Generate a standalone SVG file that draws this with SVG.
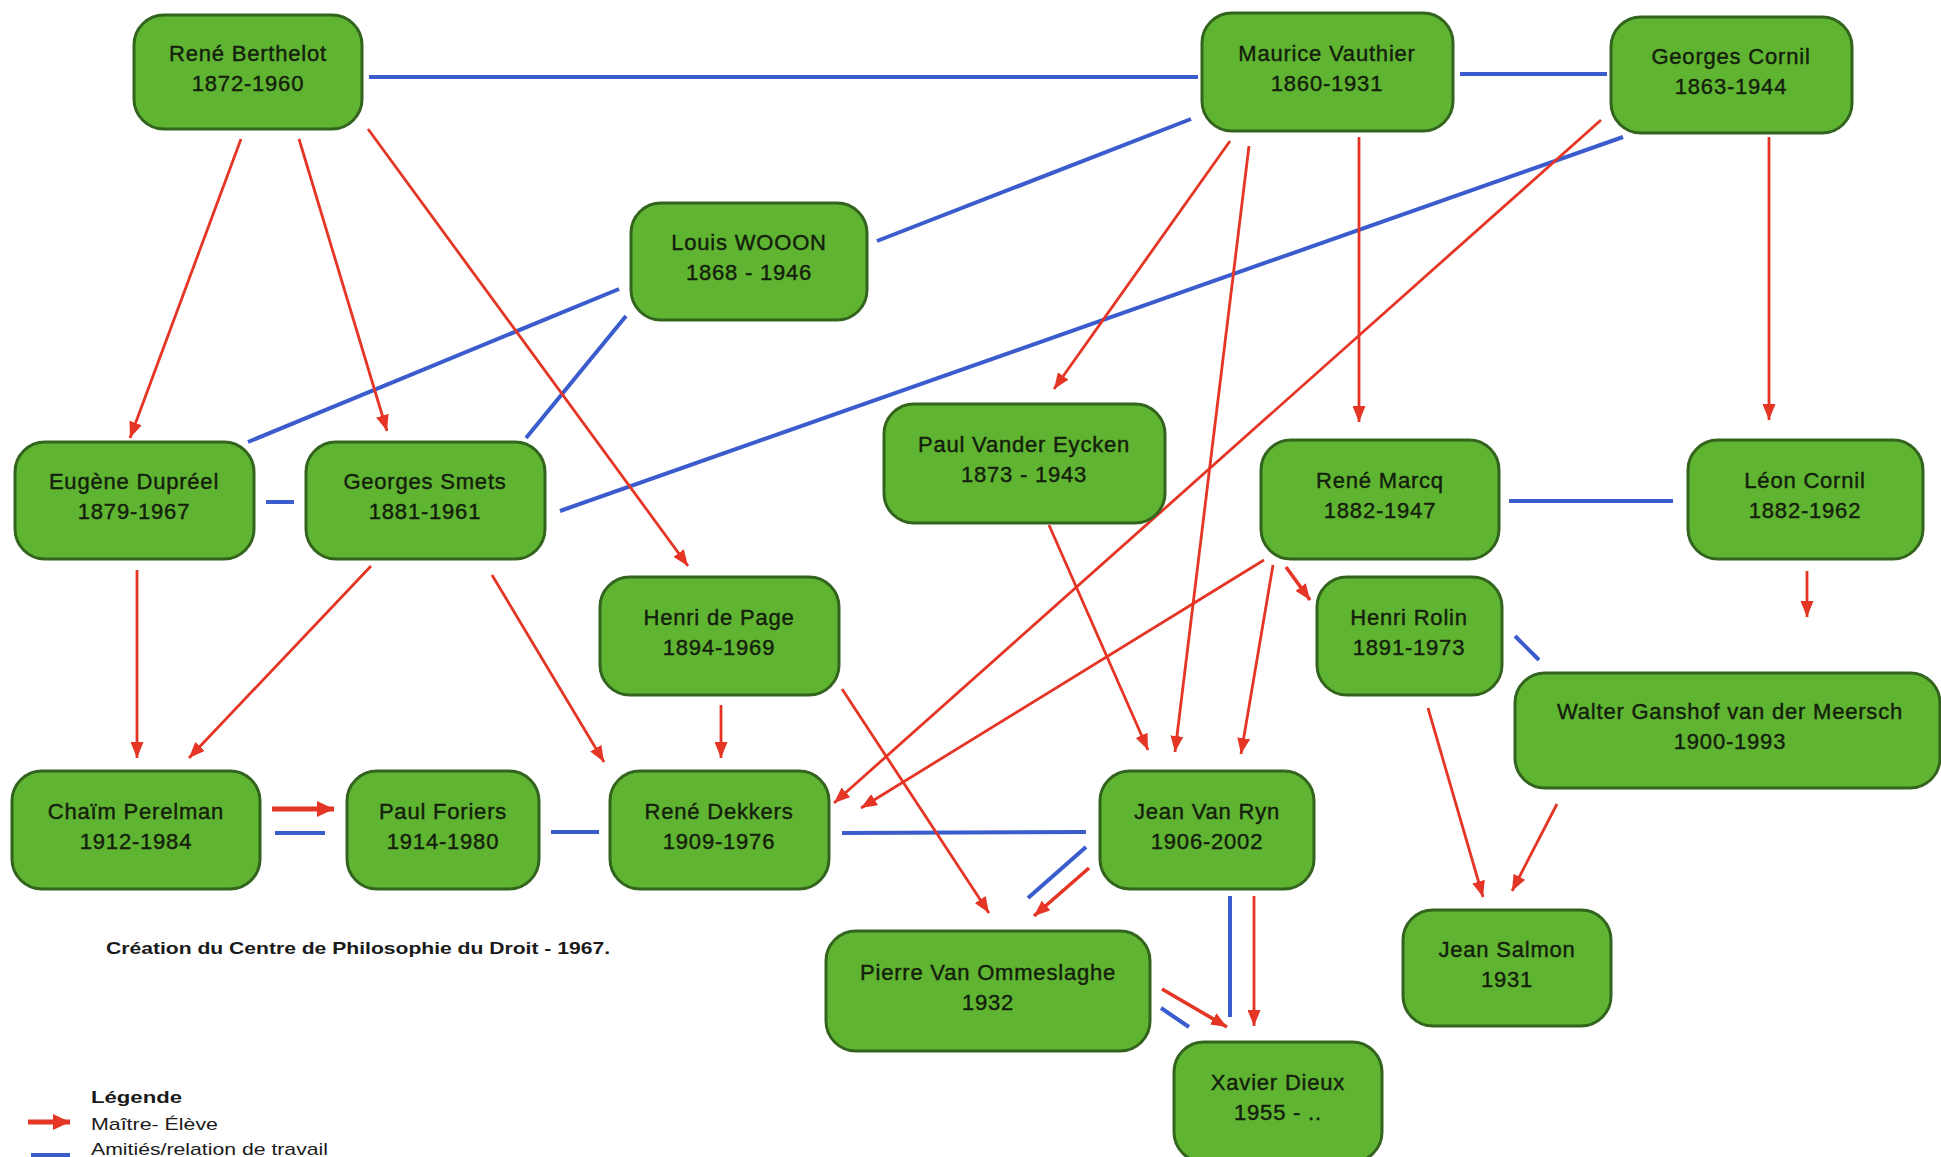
<svg xmlns="http://www.w3.org/2000/svg" width="1941" height="1157" viewBox="0 0 1941 1157">
<style>
.node rect{fill:#5fb432;stroke:#33641e;stroke-width:3}
.node text{font-family:"Liberation Sans",Arial,sans-serif;font-size:22px;letter-spacing:0.8px;fill:#14200c;stroke:#14200c;stroke-width:0.4;text-anchor:middle}
.red{stroke:#e43525;stroke-width:2.8;fill:none;marker-end:url(#ah)}
.redb{stroke:#e43525;stroke-width:3.6;fill:none;marker-end:url(#ah)}
.blue{stroke:#3a5ccc;stroke-width:4;fill:none}
.lbl{font-family:"Liberation Sans",Arial,sans-serif;fill:#1a1a1a}
</style>
<defs>
<marker id="ah" markerUnits="userSpaceOnUse" markerWidth="17" markerHeight="13" refX="16" refY="6.5" orient="auto">
<path d="M0,0 L16,6.5 L0,13 z" fill="#e43525"/>
</marker>
<marker id="ahb" markerUnits="userSpaceOnUse" markerWidth="18" markerHeight="16" refX="17" refY="8" orient="auto">
<path d="M0,0 L17,8 L0,16 z" fill="#e43525"/>
</marker>
</defs>
<rect width="1941" height="1157" fill="#ffffff"/>

<g id="connectors">
<!-- blue: friendship / work relation -->
<line class="blue" x1="369" y1="77" x2="1198" y2="77"/>
<line class="blue" x1="1460" y1="74" x2="1607" y2="74"/>
<line class="blue" x1="1191" y1="119" x2="877" y2="241"/>
<line class="blue" x1="619" y1="289" x2="248" y2="442"/>
<line class="blue" x1="626" y1="316" x2="526" y2="438"/>
<line class="blue" x1="1623" y1="137" x2="560" y2="511"/>
<line class="blue" x1="266" y1="502" x2="294" y2="502"/>
<line class="blue" x1="1509" y1="501" x2="1673" y2="501"/>
<line class="blue" x1="1515" y1="636" x2="1539" y2="660"/>
<line class="blue" x1="275" y1="833" x2="325" y2="833"/>
<line class="blue" x1="551" y1="832" x2="599" y2="832"/>
<line class="blue" x1="842" y1="833" x2="1086" y2="832"/>
<line class="blue" x1="1086" y1="847" x2="1028" y2="898"/>
<line class="blue" x1="1230" y1="896" x2="1230" y2="1017"/>
<line class="blue" x1="1161" y1="1008" x2="1189" y2="1027"/>
<!-- red: master - student -->
<line class="red" x1="241" y1="139" x2="130" y2="438"/>
<line class="red" x1="299" y1="139" x2="387" y2="431"/>
<line class="red" x1="368" y1="129" x2="688" y2="566"/>
<line class="red" x1="137" y1="570" x2="137" y2="758"/>
<line class="red" x1="371" y1="566" x2="189" y2="758"/>
<line class="red" x1="492" y1="575" x2="604" y2="762"/>
<line class="red" x1="721" y1="705" x2="721" y2="758"/>
<line class="redb" x1="272" y1="809" x2="334" y2="809" style="stroke-width:5;marker-end:url(#ahb)"/>
<line class="red" x1="842" y1="689" x2="989" y2="913"/>
<line class="red" x1="1601" y1="120" x2="834" y2="803"/>
<line class="red" x1="1264" y1="560" x2="861" y2="808"/>
<line class="red" x1="1273" y1="565" x2="1241" y2="754"/>
<line class="red" x1="1249" y1="146" x2="1175" y2="752"/>
<line class="red" x1="1049" y1="525" x2="1148" y2="750"/>
<line class="red" x1="1230" y1="141" x2="1054" y2="389"/>
<line class="red" x1="1359" y1="137" x2="1359" y2="422"/>
<line class="red" x1="1769" y1="137" x2="1769" y2="420"/>
<line class="redb" x1="1286" y1="567" x2="1310" y2="600"/>
<line class="red" x1="1807" y1="571" x2="1807" y2="617"/>
<line class="red" x1="1428" y1="708" x2="1483" y2="897"/>
<line class="red" x1="1557" y1="804" x2="1512" y2="891"/>
<line class="redb" x1="1089" y1="868" x2="1034" y2="916"/>
<line class="red" x1="1254" y1="896" x2="1254" y2="1026"/>
<line class="redb" x1="1162" y1="989" x2="1227" y2="1027"/>
</g>

<g id="berthelot" class="node"><rect x="134" y="15" width="228" height="114" rx="30"/><text x="248" y="61">René Berthelot</text><text x="248" y="91">1872-1960</text></g>
<g id="vauthier" class="node"><rect x="1202" y="13" width="251" height="118" rx="30"/><text x="1327" y="61">Maurice Vauthier</text><text x="1327" y="91">1860-1931</text></g>
<g id="gcornil" class="node"><rect x="1611" y="17" width="241" height="116" rx="30"/><text x="1731" y="64">Georges Cornil</text><text x="1731" y="94">1863-1944</text></g>
<g id="wooon" class="node"><rect x="631" y="203" width="236" height="117" rx="30"/><text x="749" y="250">Louis WOOON</text><text x="749" y="280">1868 - 1946</text></g>
<g id="dupreel" class="node"><rect x="15" y="442" width="239" height="117" rx="30"/><text x="134" y="489">Eugène Dupréel</text><text x="134" y="519">1879-1967</text></g>
<g id="smets" class="node"><rect x="306" y="442" width="239" height="117" rx="30"/><text x="425" y="489">Georges Smets</text><text x="425" y="519">1881-1961</text></g>
<g id="eycken" class="node"><rect x="884" y="404" width="281" height="119" rx="30"/><text x="1024" y="452">Paul Vander Eycken</text><text x="1024" y="482">1873 - 1943</text></g>
<g id="marcq" class="node"><rect x="1261" y="440" width="238" height="119" rx="30"/><text x="1380" y="488">René Marcq</text><text x="1380" y="518">1882-1947</text></g>
<g id="lcornil" class="node"><rect x="1688" y="440" width="235" height="119" rx="30"/><text x="1805" y="488">Léon Cornil</text><text x="1805" y="518">1882-1962</text></g>
<g id="depage" class="node"><rect x="600" y="577" width="239" height="118" rx="30"/><text x="719" y="625">Henri de Page</text><text x="719" y="655">1894-1969</text></g>
<g id="rolin" class="node"><rect x="1317" y="577" width="185" height="118" rx="30"/><text x="1409" y="625">Henri Rolin</text><text x="1409" y="655">1891-1973</text></g>
<g id="ganshof" class="node"><rect x="1515" y="673" width="425" height="115" rx="30"/><text x="1730" y="719">Walter Ganshof van der Meersch</text><text x="1730" y="749">1900-1993</text></g>
<g id="perelman" class="node"><rect x="12" y="771" width="248" height="118" rx="30"/><text x="136" y="819">Chaïm Perelman</text><text x="136" y="849">1912-1984</text></g>
<g id="foriers" class="node"><rect x="347" y="771" width="192" height="118" rx="30"/><text x="443" y="819">Paul Foriers</text><text x="443" y="849">1914-1980</text></g>
<g id="dekkers" class="node"><rect x="610" y="771" width="219" height="118" rx="30"/><text x="719" y="819">René Dekkers</text><text x="719" y="849">1909-1976</text></g>
<g id="vanryn" class="node"><rect x="1100" y="771" width="214" height="118" rx="30"/><text x="1207" y="819">Jean Van Ryn</text><text x="1207" y="849">1906-2002</text></g>
<g id="ommeslaghe" class="node"><rect x="826" y="931" width="324" height="120" rx="30"/><text x="988" y="980">Pierre Van Ommeslaghe</text><text x="988" y="1010">1932</text></g>
<g id="salmon" class="node"><rect x="1403" y="910" width="208" height="116" rx="30"/><text x="1507" y="957">Jean Salmon</text><text x="1507" y="987">1931</text></g>
<g id="dieux" class="node"><rect x="1174" y="1042" width="208" height="120" rx="30"/><text x="1278" y="1090">Xavier Dieux</text><text x="1278" y="1120">1955 - ..</text></g>

<text class="lbl" x="106" y="954" font-size="17" font-weight="bold" textLength="504" lengthAdjust="spacingAndGlyphs">Création du Centre de Philosophie du Droit - 1967.</text>

<g id="legend">
<text class="lbl" x="91" y="1103" font-size="17" font-weight="bold" textLength="91" lengthAdjust="spacingAndGlyphs">Légende</text>
<line x1="28" y1="1122" x2="70" y2="1122" stroke="#e43525" stroke-width="5" marker-end="url(#ahb)"/>
<text class="lbl" x="91" y="1130" font-size="17" textLength="127" lengthAdjust="spacingAndGlyphs">Maître- Élève</text>
<line x1="31" y1="1156" x2="70" y2="1156" stroke="#3a5ccc" stroke-width="6"/>
<text class="lbl" x="91" y="1155" font-size="17" textLength="237" lengthAdjust="spacingAndGlyphs">Amitiés/relation de travail</text>
</g>
</svg>
